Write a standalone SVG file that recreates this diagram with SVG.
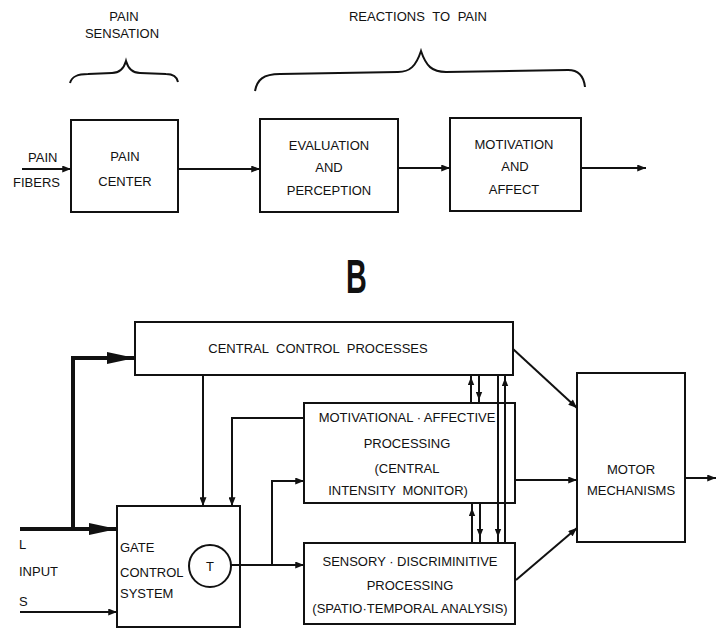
<svg xmlns="http://www.w3.org/2000/svg" width="716" height="629" viewBox="0 0 716 629">
<style>
text{font-family:"Liberation Sans",Arial,sans-serif;font-size:13px;fill:#111}
.c{text-anchor:middle}
.box{fill:none;stroke:#111;stroke-width:2}
.ln{fill:none;stroke:#111;stroke-width:2}
.thick{fill:none;stroke:#111;stroke-width:4}
</style>
<defs>
<marker id="a" viewBox="0 0 10 8" refX="10" refY="4" markerWidth="10" markerHeight="7" markerUnits="userSpaceOnUse" orient="auto"><path d="M0,0 L10,4 L0,8 z" fill="#111"/></marker>
<marker id="s" viewBox="0 0 10 8" refX="5" refY="4" markerWidth="8" markerHeight="7" markerUnits="userSpaceOnUse" orient="auto"><path d="M0,0 L10,4 L0,8 z" fill="#111"/></marker>
<marker id="big" viewBox="0 0 28 12" refX="28" refY="6" markerWidth="28" markerHeight="12" markerUnits="userSpaceOnUse" orient="auto"><path d="M0,0 L28,6 L0,12 z" fill="#111"/></marker>
</defs>

<!-- Part A labels -->
<g id="label-pain-sensation">
<text class="c" x="124" y="21">PAIN</text>
<text class="c" x="122" y="38">SENSATION</text>
<path class="ln" d="M70,83 C72,76 78,74 88,74 L112,73 C120,73 124,68 126,61 C128,68 132,73 140,73 L166,74 C174,74 177,77 178,82"/>
</g>
<g id="label-reactions">
<text class="c" x="418" y="21" word-spacing="4">REACTIONS TO PAIN</text>
<path class="ln" d="M255,91 C257,80 263,74 280,74 L398,72 C410,72 416,66 421,51 C426,66 432,72 446,72 L568,70 C580,70 584,78 585,87"/>
</g>

<g id="pain-fibers">
<text x="28" y="162">PAIN</text>
<text x="13" y="187">FIBERS</text>
</g>
<g id="pain-center">
<rect class="box" x="71" y="120" width="107" height="92"/>
<text class="c" x="125" y="161">PAIN</text>
<text class="c" x="125" y="186">CENTER</text>
</g>
<g id="evaluation">
<rect class="box" x="260" y="119" width="138" height="93"/>
<text class="c" x="329" y="150">EVALUATION</text>
<text class="c" x="329" y="172">AND</text>
<text class="c" x="329" y="195">PERCEPTION</text>
</g>
<g id="motivation">
<rect class="box" x="450" y="118" width="131" height="93"/>
<text class="c" x="514" y="149">MOTIVATION</text>
<text class="c" x="515" y="171">AND</text>
<text class="c" x="514" y="194">AFFECT</text>
</g>

<text id="label-b" x="0" y="0" transform="translate(346,293) scale(0.6,1)" style="font-size:48px;font-weight:bold">B</text>

<!-- Part B nodes -->
<g id="central-control">
<rect class="box" x="135" y="322" width="378" height="53"/>
<text class="c" x="318" y="353" word-spacing="4">CENTRAL CONTROL PROCESSES</text>
</g>
<g id="input-labels">
<text x="19" y="549">L</text>
<text x="19" y="576">INPUT</text>
<text x="19" y="606">S</text>
</g>
<g id="gate-control">
<rect class="box" x="117" y="506" width="123" height="121"/>
<text x="120" y="552">GATE</text>
<text x="120" y="577">CONTROL</text>
<text x="120" y="598">SYSTEM</text>
<circle cx="210" cy="566" r="21" fill="#fff" stroke="#111" stroke-width="2"/>
<text class="c" x="210" y="571">T</text>
</g>
<g id="motivational-affective">
<rect class="box" x="304" y="403" width="211" height="100"/>
<text class="c" x="407" y="422">MOTIVATIONAL · AFFECTIVE</text>
<text class="c" x="407" y="448">PROCESSING</text>
<text class="c" x="407" y="473">(CENTRAL</text>
<text class="c" x="398" y="495" word-spacing="3">INTENSITY MONITOR)</text>
</g>
<g id="sensory-discriminitive">
<rect class="box" x="304" y="543" width="211" height="81"/>
<text class="c" x="410" y="566">SENSORY · DISCRIMINITIVE</text>
<text class="c" x="410" y="590">PROCESSING</text>
<text class="c" x="410" y="613">(SPATIO·TEMPORAL ANALYSIS)</text>
</g>
<g id="motor-mechanisms">
<rect class="box" x="577" y="373" width="108" height="169"/>
<text class="c" x="631" y="474">MOTOR</text>
<text class="c" x="631" y="495">MECHANISMS</text>
</g>

<g id="connectors">
<!-- Part A -->
<line class="ln" x1="22" y1="169" x2="71" y2="169" marker-end="url(#a)"/>
<line class="ln" x1="178" y1="169" x2="260" y2="169" marker-end="url(#a)"/>
<line class="ln" x1="398" y1="168" x2="450" y2="168" marker-end="url(#a)"/>
<line class="ln" x1="581" y1="168" x2="646" y2="168" marker-end="url(#a)"/>
<!-- Part B -->
<line class="thick" x1="20" y1="529" x2="117" y2="529" marker-end="url(#big)"/>
<path class="thick" d="M73,529 L73,358 L135,358" marker-end="url(#big)"/>
<line class="ln" x1="20" y1="612" x2="117" y2="612" marker-end="url(#a)"/>
<line class="ln" x1="203" y1="375" x2="203" y2="506" marker-end="url(#a)"/>
<path class="ln" d="M304,418 L232,418 L232,506" marker-end="url(#a)"/>
<line class="ln" x1="231" y1="565" x2="304" y2="565" marker-end="url(#a)"/>
<path class="ln" d="M272,565 L272,481 L304,481" marker-end="url(#a)"/>
<!-- vertical interconnections -->
<path class="ln" d="M471,403 L471,381 L471,375" marker-mid="url(#s)"/>
<path class="ln" d="M479,375 L479,396 L479,403" marker-mid="url(#s)"/>
<path class="ln" d="M472,543 L472,512 L472,503" marker-mid="url(#s)"/>
<path class="ln" d="M480,503 L480,533 L480,543" marker-mid="url(#s)"/>
<path class="ln" d="M498,375 L498,533 L498,543" marker-mid="url(#s)"/>
<path class="ln" d="M505,543 L505,382 L505,375" marker-mid="url(#s)"/>
<!-- to motor -->
<line class="ln" x1="513" y1="349" x2="577" y2="408" marker-end="url(#a)"/>
<line class="ln" x1="515" y1="480" x2="577" y2="480" marker-end="url(#a)"/>
<line class="ln" x1="516" y1="580" x2="577" y2="528" marker-end="url(#a)"/>
<line class="ln" x1="685" y1="478" x2="716" y2="478" marker-end="url(#a)"/>
</g>
</svg>
